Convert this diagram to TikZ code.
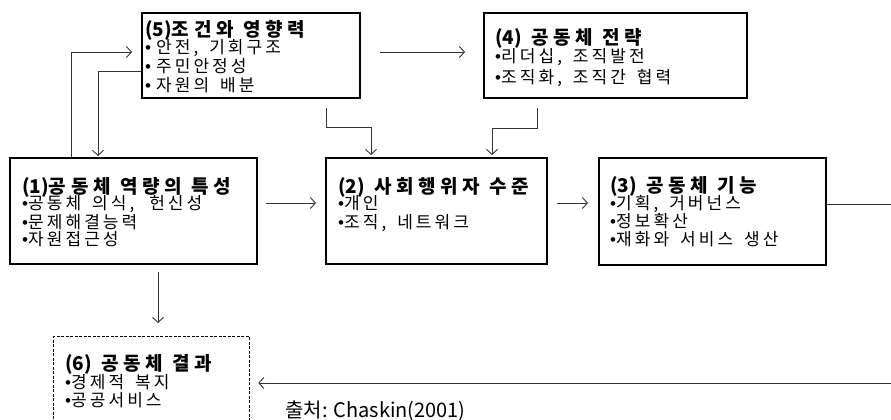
\documentclass[tikz,border=0pt]{standalone}
\usepackage{fontspec}
\usetikzlibrary{arrows.meta}
\newfontfamily\krtitle[LetterSpace=25]{Noto Sans CJK KR}
\newfontfamily\krnum{Noto Sans CJK KR}
\newfontfamily\krbody[LetterSpace=18,WordSpace=1.6]{Noto Sans CJK KR}
\newfontfamily\krplain{Noto Sans CJK KR}
\newfontfamily\latinbul{Liberation Sans}
\newcommand\bul{{\latinbul •}}
\newcommand\nm[1]{{\krnum\bfseries #1}}
\tikzset{
  box/.style={draw=black, line width=1.6pt, rectangle, inner sep=0pt, anchor=north west},
  dbox/.style={draw=black, line width=1.3pt, dash pattern=on 3pt off 1.5pt, rectangle, inner sep=0pt, anchor=north west},
  ttl/.style={anchor=base west, inner sep=0pt, font=\krtitle\bfseries\fontsize{19}{20}\selectfont},
  bod/.style={anchor=base west, inner sep=0pt, font=\krbody\fontsize{17}{18}\selectfont},
  conn/.style={draw=black!80, line width=0.9pt, -{Straight Barb[length=5pt,width=11pt]}},
}
\begin{document}
\begin{tikzpicture}[x=1pt,y=-1pt]
\useasboundingbox (0,0) rectangle (891,420);
% boxes
\node[box, minimum width=218pt, minimum height=85pt] (b5) at (141,12) {};
\node[box, minimum width=263pt, minimum height=85pt] (b4) at (483,12) {};
\node[box, minimum width=247pt, minimum height=106pt] (b1) at (9,157) {};
\node[box, minimum width=221pt, minimum height=106pt] (b2) at (325,157) {};
\node[box, minimum width=227pt, minimum height=107pt] (b3) at (598,157) {};
\node[dbox, minimum width=196pt, minimum height=100pt] (b6) at (53,336) {};
% texts box 5
\node[ttl] (t5) at (145,37) {\nm{(5)}조건와 영향력};
\node[bod] (t5a) at (145,54) {\bul\hspace{5pt}안전, 기회구조};
\node[bod] (t5b) at (145,72) {\bul\hspace{5pt}주민안정성};
\node[bod] (t5c) at (145,91) {\bul\hspace{5pt}자원의 배분};
% box 4
\node[ttl] (t4) at (495,45) {\nm{(4)} 공동체 전략};
\node[bod] (t4a) at (495,63) {\bul 리더십, 조직발전};
\node[bod] (t4b) at (495,83) {\bul 조직화, 조직간 협력};
% box 1
\node[ttl] (t1) at (22,193) {\nm{(1)}공동체 역량의 특성};
\node[bod] (t1a) at (22,209) {\bul 공동체 의식,\hspace{4pt} 헌신성};
\node[bod] (t1b) at (22,228) {\bul 문제해결능력};
\node[bod] (t1c) at (22,245) {\bul 자원접근성};
% box 2
\node[ttl] (t2) at (338,193) {\nm{(2)} 사회행위자 수준};
\node[bod] (t2a) at (338,209) {\bul 개인};
\node[bod] (t2b) at (338,228) {\bul 조직, 네트워크};
% box 3
\node[ttl] (t3) at (610,192) {\nm{(3)} 공동체 기능};
\node[bod] (t3a) at (610,209) {\bul 기획, 거버넌스};
\node[bod] (t3b) at (610,227) {\bul 정보확산};
\node[bod] (t3c) at (610,245) {\bul 재화와 서비스 생산};
% box 6
\node[ttl] (t6) at (65,370) {\nm{(6)} 공동체 결과};
\node[bod] (t6a) at (65,388) {\bul 경제적 복지};
\node[bod] (t6b) at (65,406) {\bul 공공서비스};
% source
\node[anchor=base west, inner sep=0pt, font=\krplain\fontsize{20}{22}\selectfont] (src) at (285,417) {출처: Chaskin(2001)};
% connectors
\coordinate (c1) at (71,52);
\coordinate (c2) at (98,71);
\coordinate (c4a) at (326,127);
\coordinate (c4b) at (371,127);
\coordinate (c5a) at (537,128);
\coordinate (c5b) at (492,128);
\coordinate (c8a) at (905,204);
\coordinate (c8b) at (905,383);
\draw[conn, shorten >=9pt] (b1.north west -| c1) |- (b5.west |- c1);
\draw[conn, shorten >=1pt] (b5.west |- c2) -| (b1.north west -| c2);
\draw[conn, shorten <=19pt, shorten >=18pt] (b5.east |- c1) -- (b4.west |- c1);
\draw[conn, shorten <=9pt, shorten >=2pt] (b5.south west -| c4a) -- (c4a) -| (b2.north west -| c4b);
\draw[conn, shorten <=9pt, shorten >=2pt] (b4.south west -| c5a) -- (c5a) -| (b2.north west -| c5b);
\draw[conn, shorten <=8pt, shorten >=9pt] (b1.east |- 0,203) -- (b2.west |- 0,203);
\draw[conn, shorten <=9pt, shorten >=10pt] (b2.east |- 0,203) -- (b3.west |- 0,203);
\draw[conn, shorten >=8pt] (b3.east |- c8a) -- (c8a) -- (c8b) -- (b6.east |- c8b);
\draw[conn, shorten <=7pt, shorten >=13pt] (b1.south west -| 158,0) -- (b6.north west -| 158,0);
\end{tikzpicture}
\end{document}
